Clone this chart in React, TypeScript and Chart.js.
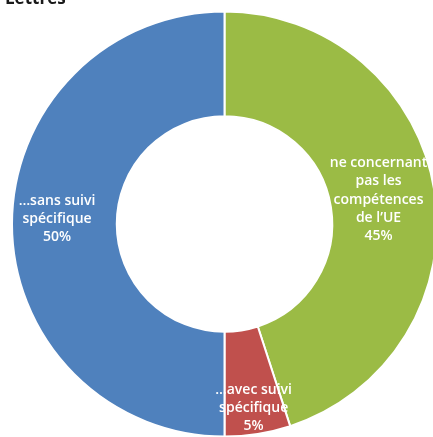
import React, { useEffect, useRef } from "react";
import { Chart, registerables } from "chart.js";

Chart.register(...registerables);

const categories = ["ne concernant pas les compétences de l'UE", "...avec suivi spécifique", "...sans suivi spécifique"];
const values = [45, 5, 50];
const labelLines = [
  ["ne concernant", "pas les", "compétences", "de l\u2019UE", "45%"],
  ["\u2026avec suivi", "spécifique", "5%"],
  ["\u2026sans suivi", "spécifique", "50%"],
];
const colors = ["#9BBB45", "#C0504D", "#4F81BD"];
const labelRadiusFrac = [0.46, 0.75, 0.57];
const labelDy = [0, 0, -5];
const title = "Lettres";

const labelPlugin = {
  id: "sliceLabels",
  afterDatasetsDraw(chart: any) {
    const ctx = chart.ctx;
    const meta = chart.getDatasetMeta(0);
    ctx.save();
    ctx.fillStyle = "#ffffff";
    ctx.font = "600 14px 'Open Sans'";
    ctx.textAlign = "center";
    ctx.textBaseline = "middle";
    const lh = 18.3;
    meta.data.forEach((arc: any, i: number) => {
      const p = arc.getProps(["x", "y", "startAngle", "endAngle", "innerRadius", "outerRadius"], true);
      const mid = (p.startAngle + p.endAngle) / 2;
      const r = p.innerRadius + labelRadiusFrac[i] * (p.outerRadius - p.innerRadius);
      const cx = p.x + Math.cos(mid) * r;
      const cy = p.y + Math.sin(mid) * r + labelDy[i];
      const lines = labelLines[i];
      const y0 = cy - ((lines.length - 1) * lh) / 2;
      lines.forEach((t, k) => ctx.fillText(t, cx, y0 + k * lh));
    });
    ctx.restore();
  },
};

const titlePlugin = {
  id: "cutTitle",
  afterDraw(chart: any) {
    const ctx = chart.ctx;
    ctx.save();
    ctx.fillStyle = "#1a1a1a";
    ctx.font = "bold 17px 'Open Sans'";
    ctx.textAlign = "left";
    ctx.textBaseline = "alphabetic";
    ctx.fillText(title, 5, 4);
    ctx.restore();
  },
};

export default function App() {
  const ref = useRef<HTMLCanvasElement>(null);
  useEffect(() => {
    if (!ref.current) return;
    const chart = new Chart(ref.current, {
      type: "doughnut",
      data: {
        labels: categories,
        datasets: [
          {
            data: values,
            backgroundColor: colors,
            borderColor: "#ffffff",
            borderWidth: 2,
          },
        ],
      },
      options: {
        animation: false,
        responsive: false,
        cutout: "50.7%",
        layout: { padding: { left: 11, top: 10, right: 12, bottom: 12 } },
        plugins: {
          legend: { display: false },
          tooltip: { enabled: false },
          title: { display: false },
        },
      },
      plugins: [labelPlugin, titlePlugin],
    });
    return () => chart.destroy();
  }, []);
  return (
    <div style={{ position: "fixed", left: 0, top: 0, width: 433, height: 437, overflow: "hidden", background: "#fff" }}>
      <canvas ref={ref} width={450} height={450} style={{ position: "absolute", left: 0, top: 0, width: 450, height: 450 }} />
    </div>
  );
}
